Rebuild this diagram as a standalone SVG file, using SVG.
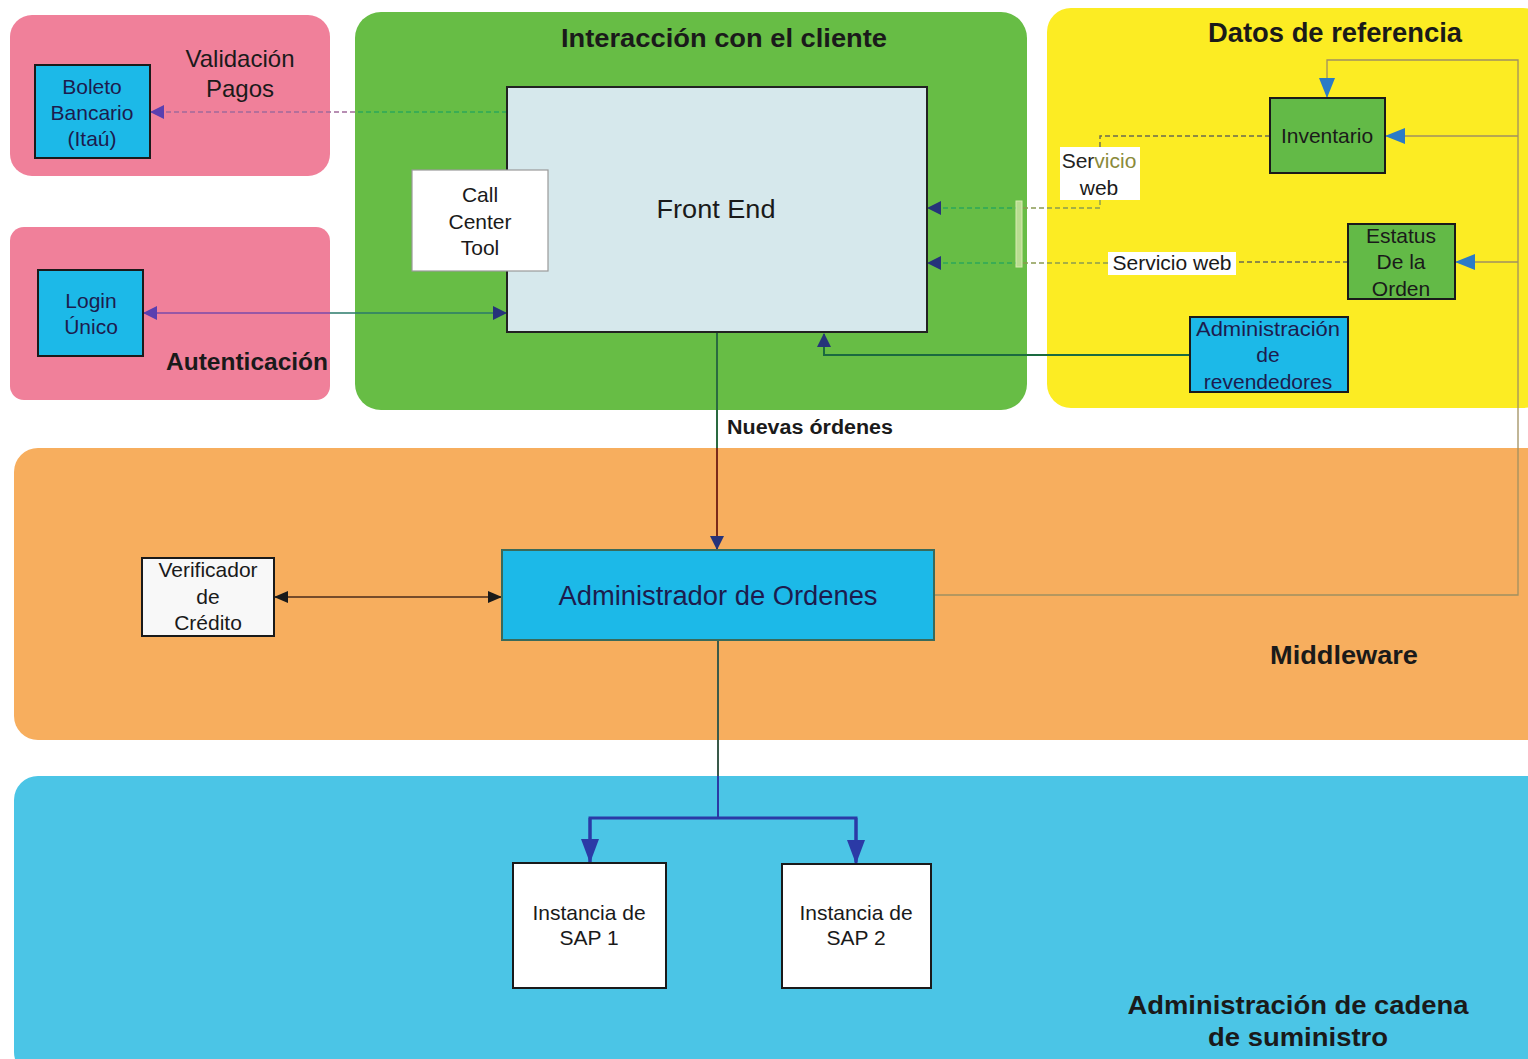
<svg xmlns="http://www.w3.org/2000/svg" width="1528" height="1059" viewBox="0 0 1528 1059">
  <style>
    text { font-family: "Liberation Sans", Arial, sans-serif; fill: #1a1a1a; }
    .lbl { font-size: 21px; text-anchor: middle; }
    .navy { fill: #1c1c4e; }
    .title { font-weight: bold; }
    .box { stroke: #1a1a1a; stroke-width: 2; }
    .cyan { fill: #1cb9e8; }
    .gbox { fill: #63ba47; }
    .white { fill: #ffffff; }
    .dash { fill: none; stroke-width: 1.4; stroke-dasharray: 5 3; }
    .solid { fill: none; }
  </style>
  <defs>
    <marker id="arNavy" markerUnits="userSpaceOnUse" markerWidth="14" markerHeight="14" viewBox="0 0 14 14" refX="13" refY="7" orient="auto-start-reverse">
      <path d="M0,0 L14,7 L0,14 z" fill="#26337a"/>
    </marker>
    <marker id="arPurple" markerUnits="userSpaceOnUse" markerWidth="14" markerHeight="14" viewBox="0 0 14 14" refX="13" refY="7" orient="auto-start-reverse">
      <path d="M0,0 L14,7 L0,14 z" fill="#5a3fb0"/>
    </marker>
    <marker id="arBlue" markerUnits="userSpaceOnUse" markerWidth="20" markerHeight="16" viewBox="0 0 20 16" refX="19" refY="8" orient="auto-start-reverse">
      <path d="M0,0 L20,8 L0,16 z" fill="#2b7bc6"/>
    </marker>
    <marker id="arSap" markerUnits="userSpaceOnUse" markerWidth="24" markerHeight="18" viewBox="0 0 24 18" refX="23" refY="9" orient="auto-start-reverse">
      <path d="M0,0 L24,9 L0,18 z" fill="#2b3aa6"/>
    </marker>
    <marker id="arBlack" markerUnits="userSpaceOnUse" markerWidth="14" markerHeight="12" viewBox="0 0 14 12" refX="13" refY="6" orient="auto-start-reverse">
      <path d="M0,0 L14,6 L0,12 z" fill="#1a1a1a"/>
    </marker>
  </defs>

  <rect width="1528" height="1059" fill="#ffffff"/>

  <!-- background areas -->
  <g id="area-validacion">
    <rect x="10" y="15" width="320" height="161" rx="22" fill="#f0809a"/>
    <text x="240" y="67" font-size="24" text-anchor="middle" fill="#2a1a1e">Validación</text>
    <text x="240" y="97" font-size="24" text-anchor="middle" fill="#2a1a1e">Pagos</text>
  </g>
  <g id="area-autenticacion">
    <rect x="10" y="227" width="320" height="173" rx="14" fill="#f0809a"/>
    <text x="166" y="370" font-size="23" class="title" textLength="162" lengthAdjust="spacingAndGlyphs">Autenticación</text>
  </g>
  <g id="area-interaccion">
    <rect x="355" y="12" width="672" height="398" rx="26" fill="#67bd45"/>
    <text x="561" y="47" font-size="26" class="title" textLength="326" lengthAdjust="spacingAndGlyphs">Interacción con el cliente</text>
  </g>
  <g id="area-datos">
    <rect x="1047" y="8" width="500" height="400" rx="24" fill="#fcec23"/>
    <text x="1208" y="42" font-size="27" class="title" textLength="254" lengthAdjust="spacingAndGlyphs">Datos de referencia</text>
  </g>
  <g id="area-middleware">
    <rect x="14" y="448" width="1540" height="292" rx="24" fill="#f7ae5e"/>
    <text x="1270" y="664" font-size="25" class="title" textLength="148" lengthAdjust="spacingAndGlyphs">Middleware</text>
  </g>
  <g id="area-cadena">
    <rect x="14" y="776" width="1540" height="300" rx="24" fill="#4bc5e6"/>
    <text x="1298" y="1014" font-size="26" class="title" text-anchor="middle" textLength="341" lengthAdjust="spacingAndGlyphs">Administración de cadena</text>
    <text x="1298" y="1046" font-size="26" class="title" text-anchor="middle" textLength="180" lengthAdjust="spacingAndGlyphs">de suministro</text>
  </g>

  <!-- connectors -->
  <g id="connectors">
    <!-- Front End to Boleto Bancario -->
    <path class="dash" d="M507,112 H355" stroke="#2ca85a"/>
    <path class="dash" d="M355,112 H151" stroke="#a06a9a" marker-end="url(#arPurple)"/>
    <!-- Login Unico to Front End -->
    <path class="solid" d="M144,313 H330" stroke="#7a4aa8" stroke-width="1.6" marker-start="url(#arPurple)"/>
    <path class="solid" d="M330,313 H506" stroke="#2a7a6a" stroke-width="1.6" marker-end="url(#arNavy)"/>
    <!-- Nuevas ordenes -->
    <path class="solid" d="M717,333 V448" stroke="#2a6a40" stroke-width="2"/>
    <path class="solid" d="M717,448 V549" stroke="#7a2a1a" stroke-width="2" marker-end="url(#arNavy)"/>
    <text x="727" y="434" font-size="20" class="title" textLength="166" lengthAdjust="spacingAndGlyphs" fill="#222">Nuevas órdenes</text>
    <!-- Revendedores to Front End -->
    <path class="solid" d="M1190,355 H824 V334" stroke="#1a6a40" stroke-width="2" marker-end="url(#arNavy)"/>
    <!-- Inventario web service to Front End -->
    <path class="dash" d="M1270,136 H1100 V147" stroke="#6a6a50"/>
    <path class="dash" d="M1100,200 V208 H1020" stroke="#8a9a50"/>
    <path class="dash" d="M1020,208 H928" stroke="#2ca85a" marker-end="url(#arNavy)"/>
    <!-- Estatus web service to Front End -->
    <path class="dash" d="M1348,262 H1236" stroke="#6a6a50"/>
    <path class="dash" d="M1108,263 H1020" stroke="#8a9a50"/>
    <path class="dash" d="M1020,263 H928" stroke="#2ca85a" marker-end="url(#arNavy)"/>
    <rect x="1016" y="201" width="6" height="66" fill="#b8dc90" stroke="#d8ecb0" stroke-width="1"/>
    <!-- Administrador feed to reference data -->
    <path class="solid" d="M934,595 H1518 V60 H1327 V97" stroke="#a09060" stroke-width="1.3" marker-end="url(#arBlue)"/>
    <path class="solid" d="M1518,136 H1386" stroke="#a09060" stroke-width="1.3" marker-end="url(#arBlue)"/>
    <path class="solid" d="M1518,262 H1456" stroke="#a09060" stroke-width="1.3" marker-end="url(#arBlue)"/>
    <!-- Verificador de credito -->
    <path class="solid" d="M275,597 H501" stroke="#4a2a1a" stroke-width="1.6" marker-start="url(#arBlack)" marker-end="url(#arBlack)"/>
    <!-- Administrador to SAP instances -->
    <path class="solid" d="M718,640 V776" stroke="#3a5a4a" stroke-width="2"/>
    <path class="solid" d="M718,776 V818" stroke="#2b3aa6" stroke-width="2"/>
    <path class="solid" d="M590,862 V818 H856 V862" stroke="#2b3aa6" stroke-width="3"/>
    <path class="solid" d="M590,818 V862" stroke="#2b3aa6" stroke-width="3" marker-end="url(#arSap)"/>
    <path class="solid" d="M856,818 V863" stroke="#2b3aa6" stroke-width="3" marker-end="url(#arSap)"/>
  </g>

  <!-- nodes -->
  <g id="boleto">
    <rect x="35" y="65" width="115" height="93" class="box cyan"/>
    <text class="lbl navy" x="92" y="94">Boleto</text>
    <text class="lbl navy" x="92" y="120">Bancario</text>
    <text class="lbl navy" x="92" y="146">(Itaú)</text>
  </g>
  <g id="login">
    <rect x="38" y="270" width="105" height="86" class="box cyan"/>
    <text class="lbl navy" x="91" y="308">Login</text>
    <text class="lbl navy" x="91" y="334">Único</text>
  </g>
  <g id="front-end">
    <rect x="507" y="87" width="420" height="245" fill="#d6e8ec" stroke="#222" stroke-width="2"/>
    <text x="716" y="218" font-size="26" text-anchor="middle" textLength="119" lengthAdjust="spacingAndGlyphs">Front End</text>
  </g>
  <g id="call-center">
    <rect x="412" y="170" width="136" height="101" fill="#ffffff" stroke="#9a9a9a" stroke-width="1.2"/>
    <text class="lbl" x="480" y="202">Call</text>
    <text class="lbl" x="480" y="229">Center</text>
    <text class="lbl" x="480" y="255">Tool</text>
  </g>
  <g id="servicio-web-1">
    <rect x="1060" y="147" width="80" height="53" fill="#ffffff"/>
    <text class="lbl" x="1099" y="168"><tspan fill="#222">Ser</tspan><tspan fill="#8a8a3a">vicio</tspan></text>
    <text class="lbl" x="1099" y="195" fill="#333">web</text>
  </g>
  <g id="servicio-web-2">
    <rect x="1108" y="252" width="128" height="23" fill="#ffffff"/>
    <text class="lbl" x="1172" y="270">Servicio web</text>
  </g>
  <g id="inventario">
    <rect x="1270" y="98" width="115" height="75" class="box gbox"/>
    <text class="lbl" x="1327" y="143">Inventario</text>
  </g>
  <g id="estatus">
    <rect x="1348" y="224" width="107" height="75" class="box gbox"/>
    <text class="lbl" x="1401" y="243">Estatus</text>
    <text class="lbl" x="1401" y="269">De la</text>
    <text class="lbl" x="1401" y="296">Orden</text>
  </g>
  <g id="revendedores">
    <rect x="1190" y="317" width="158" height="75" class="box cyan"/>
    <text class="lbl navy" x="1268" y="336" textLength="144" lengthAdjust="spacingAndGlyphs">Administración</text>
    <text class="lbl navy" x="1268" y="362">de</text>
    <text class="lbl navy" x="1268" y="389">revendedores</text>
  </g>
  <g id="verificador">
    <rect x="142" y="558" width="132" height="78" fill="#f8f8f8" stroke="#1a1a1a" stroke-width="2"/>
    <text class="lbl" x="208" y="577">Verificador</text>
    <text class="lbl" x="208" y="604">de</text>
    <text class="lbl" x="208" y="630">Crédito</text>
  </g>
  <g id="administrador">
    <rect x="502" y="550" width="432" height="90" fill="#1cb9e8" stroke="#3a6a5a" stroke-width="2"/>
    <text class="navy" x="718" y="605" font-size="27" text-anchor="middle" textLength="319" lengthAdjust="spacingAndGlyphs">Administrador de Ordenes</text>
  </g>
  <g id="sap-1">
    <rect x="513" y="863" width="153" height="125" class="box white"/>
    <text class="lbl" x="589" y="920">Instancia de</text>
    <text class="lbl" x="589" y="945">SAP 1</text>
  </g>
  <g id="sap-2">
    <rect x="782" y="864" width="149" height="124" class="box white"/>
    <text class="lbl" x="856" y="920">Instancia de</text>
    <text class="lbl" x="856" y="945">SAP 2</text>
  </g>
</svg>
